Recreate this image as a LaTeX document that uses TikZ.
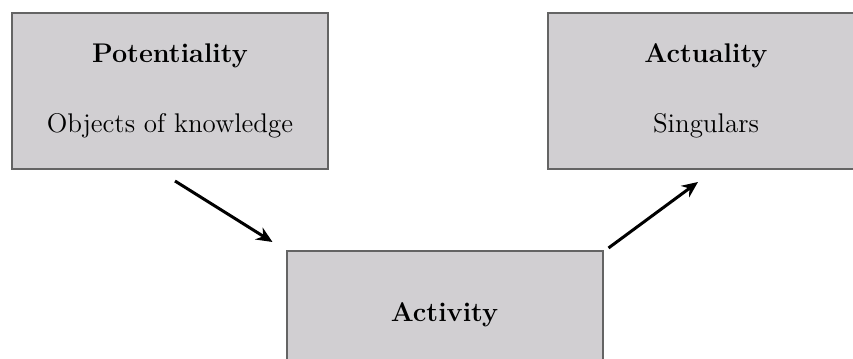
\documentclass[tikz,border=0pt]{standalone}
\usetikzlibrary{positioning, arrows.meta}
\definecolor{boxgray}{RGB}{209,207,210}
\definecolor{edgegray}{RGB}{100,100,100}
\tikzstyle{block} = [rectangle, draw=edgegray, fill=boxgray, line width=1pt, minimum width=158pt, minimum height=78pt, align=center, font=\fontsize{13.5}{35}\selectfont]

\begin{document}
\begin{tikzpicture}[x=0.5pt, y=0.5pt, >={Stealth[length=8pt,width=7pt]}]
			\useasboundingbox (0,0) rectangle (853,-359);
			\clip (0,0) rectangle (853,-359);
			\node[block]                        (potentiality) at (170,-91)    {\textbf{Potentiality}\\Objects of knowledge};
			\node[block]                        (actuality)    at (706,-91)    {\textbf{Actuality}\\Singulars};
			\node[block, text depth=17pt]       (activity)     at (444.5,-329) {\textbf{Activity}};
			
			\draw[->, line width=1.5pt] ([shift={(5,-11)}]potentiality.south) -- ([shift={(-13,8)}]activity.north west);
			\draw[->, line width=1.5pt] ([shift={(5,2)}]activity.north east) -- ([shift={(-8,-12)}]actuality.south);
			
		\end{tikzpicture}
\end{document}
